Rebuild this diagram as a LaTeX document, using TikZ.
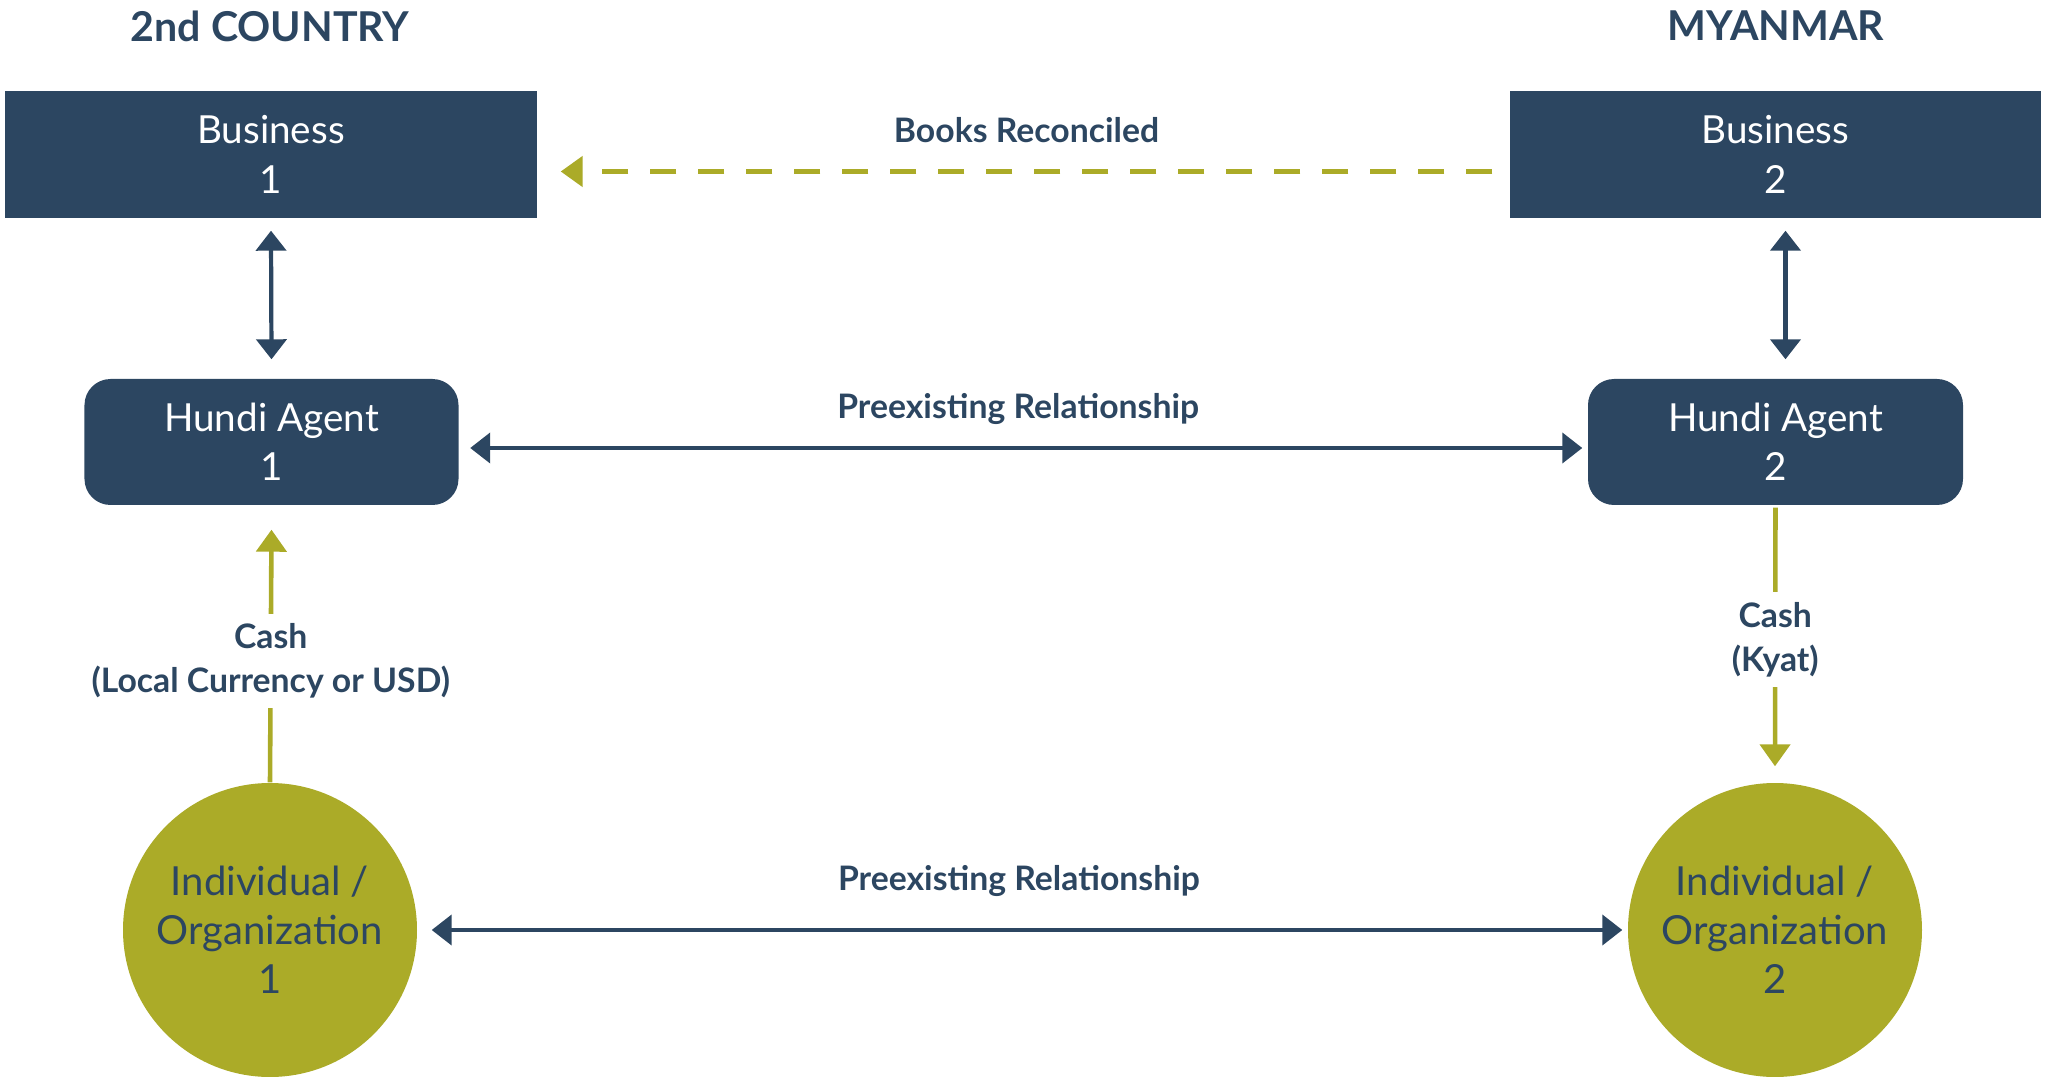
\documentclass[tikz,border=0pt]{standalone}
\usepackage{fontspec}
\setmainfont{Lato}
\usetikzlibrary{arrows.meta}
\definecolor{navy}{HTML}{2C4661}
\definecolor{olive}{HTML}{ABAB28}
\begin{document}
\begin{tikzpicture}[
    box/.style={fill=navy,text=white,align=center,minimum height=1.27cm,font=\fontsize{11}{14}\selectfont},
    party/.style={circle,fill=olive,text=navy,align=center,minimum size=2.94cm,inner sep=0pt,font=\fontsize{11.4}{14}\selectfont},
    title/.style={text=navy,font=\fontsize{11.7}{14}\selectfont\bfseries},
    lbl/.style={text=navy,align=center,font=\fontsize{9.6}{12.5}\selectfont\bfseries},
    link/.style={navy,line width=1.2pt,{Triangle[width=0.3cm,length=0.2cm]}-{Triangle[width=0.3cm,length=0.2cm]}},
    cash/.style={olive,line width=1.3pt,-{Triangle[width=0.3cm,length=0.22cm]}}
]
    \useasboundingbox (0,0) rectangle (20.48,-10.77);
    \node[title] (country) at (2.70,-0.26) {2nd COUNTRY};
    \node[title] (myanmar) at (17.76,-0.26) {MYANMAR};
    \node[box,minimum width=5.32cm] (biz1) at (2.71,-1.545) {Business\\1};
    \node[box,minimum width=5.31cm] (biz2) at (17.755,-1.545) {Business\\2};
    \node[box,rounded corners=0.26cm,minimum width=3.74cm,minimum height=1.26cm] (agent1) at (2.715,-4.42) {Hundi Agent\\1};
    \node[box,rounded corners=0.26cm,minimum width=3.75cm,minimum height=1.26cm] (agent2) at (17.755,-4.42) {Hundi Agent\\2};
    \node[party] (party1) at (2.70,-9.30) {Individual /\\Organization\\1};
    \node[party] (party2) at (17.75,-9.30) {Individual /\\Organization\\2};
    \draw[olive,line width=1.4pt,dash pattern=on 0.26cm off 0.22cm,-{Triangle[width=0.3cm,length=0.22cm]}]
        ([xshift=-0.17cm,yshift=-0.17cm]biz2.west) -- node[lbl,above=0.15cm] {Books Reconciled} ([xshift=0.23cm,yshift=-0.17cm]biz1.east);
    \draw[link] ([yshift=-0.12cm]biz1.south) -- ([yshift=0.19cm]agent1.north);
    \draw[link] ([xshift=0.1cm,yshift=-0.12cm]biz2.south) -- ([xshift=0.1cm,yshift=0.19cm]agent2.north);
    \draw[link] ([xshift=0.11cm,yshift=-0.06cm]agent1.east) -- node[lbl,above=0.1cm,xshift=-0.08cm] {Preexisting Relationship} ([xshift=-0.05cm,yshift=-0.06cm]agent2.west);
    \draw[link] ([xshift=0.14cm]party1.east) -- node[lbl,above=0.2cm,xshift=-0.08cm] {Preexisting Relationship} ([xshift=-0.05cm]party2.west);
    \draw[cash] (party1.north) -- node[lbl,fill=white,inner sep=0.1cm,pos=0.48] {Cash\\(Local Currency or USD)} ([yshift=-0.24cm]agent1.south);
    \draw[cash] ([yshift=-0.02cm]agent2.south) -- node[lbl,fill=white,inner sep=0.1cm,pos=0.51] {Cash\\(Kyat)} ([yshift=0.16cm]party2.north);
\end{tikzpicture}
\end{document}
